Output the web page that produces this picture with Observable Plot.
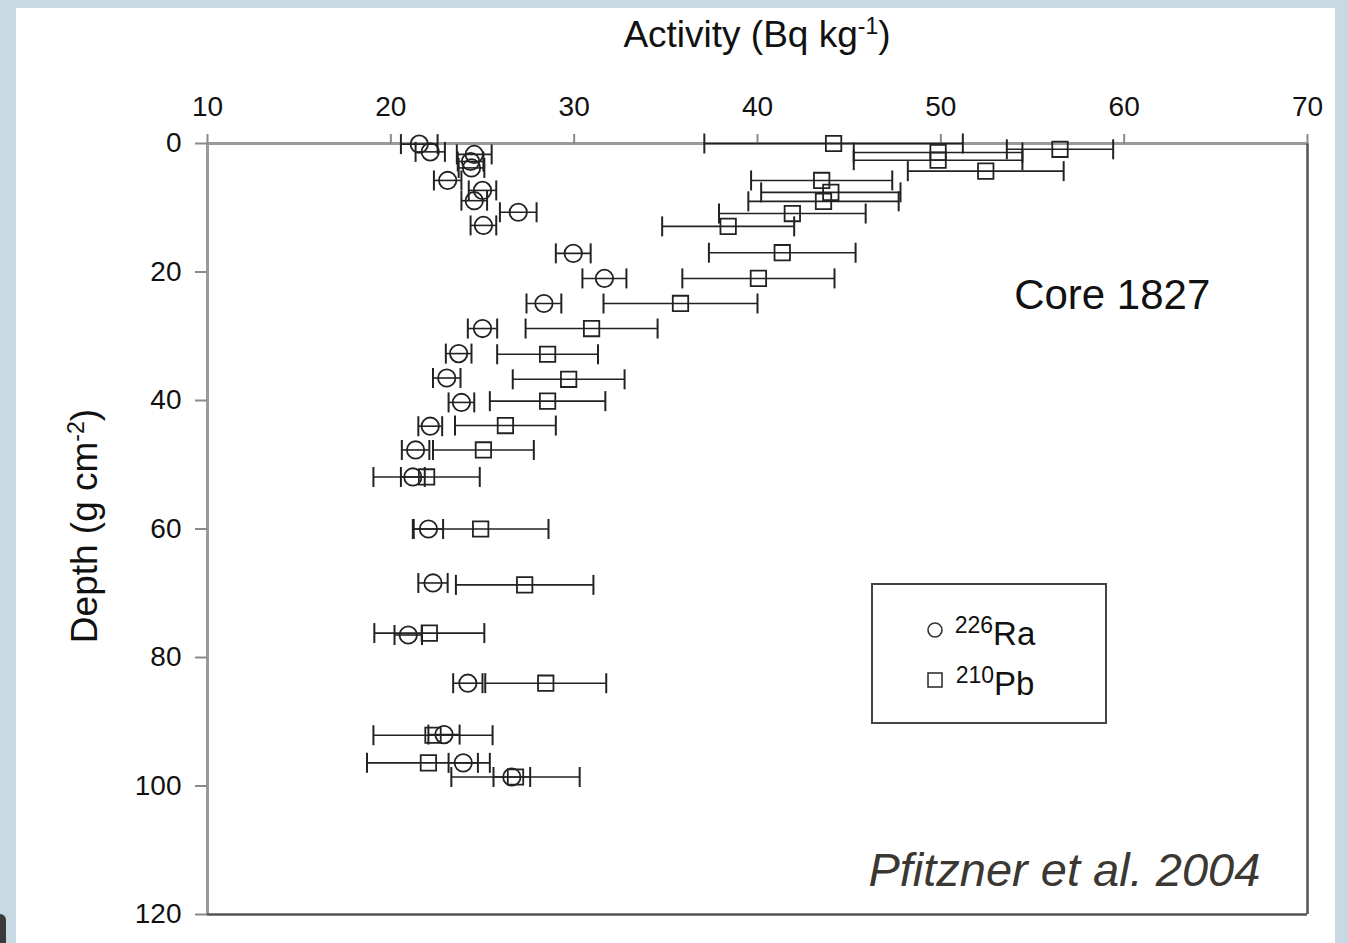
<!DOCTYPE html>
<html>
<head>
<meta charset="utf-8">
<script src="https://cdn.jsdelivr.net/npm/d3@7"></script>
<script src="https://cdn.jsdelivr.net/npm/@observablehq/plot@0.6"></script>
<style>
  html, body { margin: 0; padding: 0; }
  body { width: 1348px; height: 943px; background: #c9d9e3; position: relative; overflow: hidden; font-family: "Liberation Sans", Arial, sans-serif; }
  #panel { position: absolute; left: 16px; top: 8px; width: 1319px; height: 940px; background: #ffffff; }
  #corner { position: absolute; left: 0; top: 914px; width: 6px; height: 29px; background: #3a3a3a; border-top-right-radius: 6px; }
  #chart { position: absolute; left: 0; top: 0; }
</style>
</head>
<body>
<div id="panel"></div>
<div id="corner"></div>
<div id="chart"></div>
<script>
// Axis ticks
const xTicks = [10, 20, 30, 40, 50, 60, 70];
const yTicks = [0, 20, 40, 60, 80, 100, 120];

// 226Ra activity profile, core 1827 (depth in g cm-2, activity in Bq kg-1, ± 1 sd)
const raDepth    = [0.1, 1.3, 1.7, 2.8, 3.8, 5.75, 7.3, 8.9, 10.7, 12.75, 17.1, 21.0, 24.9, 28.8, 32.7, 36.5, 40.3, 44.0, 47.7, 51.9, 60.0, 68.4, 76.5, 84.0, 92.0, 96.4, 98.6];
const raActivity = [21.55, 22.15, 24.55, 24.35, 24.4, 23.1, 25.0, 24.55, 26.95, 25.05, 29.95, 31.65, 28.35, 25.0, 23.7, 23.05, 23.85, 22.15, 21.35, 21.2, 22.05, 22.3, 20.95, 24.2, 22.9, 23.95, 26.6];
const raError    = [1.0, 0.8, 0.95, 0.7, 0.7, 0.75, 0.75, 0.7, 1.0, 0.7, 0.95, 1.2, 0.95, 0.8, 0.7, 0.75, 0.7, 0.65, 0.75, 0.65, 0.8, 0.8, 0.75, 0.8, 0.85, 0.8, 1.0];

// 210Pb activity profile, core 1827
const pbDepth    = [0, 0.9, 1.4, 2.6, 4.3, 5.75, 7.6, 9.0, 10.9, 12.9, 17.0, 21.0, 24.9, 28.8, 32.8, 36.7, 40.1, 43.9, 47.7, 51.9, 60.0, 68.7, 76.2, 84.0, 92.1, 96.4, 98.6];
const pbActivity = [44.15, 56.5, 49.85, 49.85, 52.45, 43.5, 44.0, 43.6, 41.9, 38.4, 41.35, 40.05, 35.8, 30.95, 28.55, 29.7, 28.55, 26.25, 25.05, 21.95, 24.9, 27.3, 22.1, 28.45, 22.3, 22.05, 26.8];
const pbError    = [7.05, 2.9, 4.6, 4.6, 4.25, 3.85, 3.8, 4.1, 4.0, 3.6, 4.0, 4.15, 4.2, 3.6, 2.75, 3.05, 3.15, 2.75, 2.75, 2.9, 3.7, 3.75, 3.0, 3.3, 3.25, 3.35, 3.5];

const ra = raDepth.map((depth, i) => ({depth, value: raActivity[i], err: raError[i]}));
const pb = pbDepth.map((depth, i) => ({depth, value: pbActivity[i], err: pbError[i]}));

// Vertical whisker cap drawn as a dot symbol
const capSymbol = {
  draw(context, size) {
    const r = Math.sqrt(size / Math.PI);
    context.moveTo(0, -r);
    context.lineTo(0, r);
  }
};

const ink = "#222";

function errorMarks(rows, symbol) {
  return [
    Plot.ruleY(rows, {y: "depth", x1: d => d.value - d.err, x2: d => d.value + d.err, stroke: ink, strokeWidth: 1.6}),
    Plot.dot(rows, {x: d => d.value - d.err, y: "depth", symbol: capSymbol, r: 10, fill: "none", stroke: ink, strokeWidth: 2}),
    Plot.dot(rows, {x: d => d.value + d.err, y: "depth", symbol: capSymbol, r: 10, fill: "none", stroke: ink, strokeWidth: 2}),
    Plot.dot(rows, {x: "value", y: "depth", symbol, r: 8.7, fill: "none", stroke: ink, strokeWidth: 1.8})
  ];
}

const chart = Plot.plot({
  width: 1348,
  height: 943,
  marginLeft: 207,
  marginRight: 41,
  marginTop: 143,
  marginBottom: 29,
  style: {background: "transparent", fontFamily: "'Liberation Sans', Arial, sans-serif"},
  x: {domain: [10, 70]},
  y: {domain: [0, 120], reverse: true},
  marks: [
    Plot.ruleY([0], {stroke: "#9a9a9a", strokeWidth: 3}),
    Plot.ruleX([10], {stroke: "#9a9a9a", strokeWidth: 3}),
    Plot.ruleY([120], {stroke: "#555", strokeWidth: 2.5}),
    Plot.ruleX([70], {stroke: "#555", strokeWidth: 2.5}),
    Plot.axisX({anchor: "top", ticks: xTicks, tickSize: 10, tickPadding: 18, fontSize: 28, stroke: "#8a8a8a", strokeWidth: 2, fill: "#111", label: null, tickFormat: d => String(d)}),
    Plot.axisY({anchor: "left", ticks: yTicks, tickSize: 12, tickPadding: 14, fontSize: 28, stroke: "#8a8a8a", strokeWidth: 2, fill: "#111", label: null, tickFormat: d => String(d)}),
    ...errorMarks(ra, "circle"),
    ...errorMarks(pb, "square"),
    Plot.text(["Core 1827"], {x: 54, y: 25.8, text: d => d, textAnchor: "start", lineAnchor: "bottom", fontSize: 42, fill: "#111"}),
    Plot.text(["Pfitzner et al. 2004"], {x: 46.05, y: 115.6, text: d => d, textAnchor: "start", lineAnchor: "bottom", fontSize: 47, fontStyle: "italic", fill: "#3b3733"})
  ]
});

document.getElementById("chart").appendChild(chart);

// Titles and legend with superscripts
const svg = d3.select(chart);
const font = "'Liberation Sans', Arial, sans-serif";

function supText(parent, attrs, parts) {
  const t = parent.append("text").attr("font-family", font).attr("fill", "#111");
  Object.entries(attrs).forEach(([k, v]) => t.attr(k, v));
  parts.forEach(p => {
    const s = t.append("tspan").text(p.text).attr("font-size", p.size);
    if (p.shift) s.attr("dy", p.shift);
  });
  return t;
}

supText(svg, {x: 757, y: 47, "text-anchor": "middle"}, [
  {text: "Activity (Bq kg", size: 37},
  {text: "-1", size: 23, shift: -13},
  {text: ")", size: 37, shift: 13}
]);

supText(svg, {transform: "translate(97,526) rotate(-90)", "text-anchor": "middle"}, [
  {text: "Depth (g cm", size: 37},
  {text: "-2", size: 23, shift: -13},
  {text: ")", size: 37, shift: 13}
]);

const legend = svg.append("g");
legend.append("rect").attr("x", 872).attr("y", 584).attr("width", 234).attr("height", 139)
  .attr("fill", "white").attr("stroke", "#444").attr("stroke-width", 2);
legend.append("circle").attr("cx", 935).attr("cy", 630).attr("r", 7)
  .attr("fill", "none").attr("stroke", "#333").attr("stroke-width", 1.6);
legend.append("rect").attr("x", 928).attr("y", 673).attr("width", 14).attr("height", 14)
  .attr("fill", "none").attr("stroke", "#333").attr("stroke-width", 1.6);
supText(legend, {x: 995, y: 645}, [
  {text: "226", size: 23, shift: -12},
  {text: "Ra", size: 33, shift: 12}
]);
supText(legend, {x: 995, y: 695}, [
  {text: "210", size: 23, shift: -12},
  {text: "Pb", size: 33, shift: 12}
]);
</script>
</body>
</html>
